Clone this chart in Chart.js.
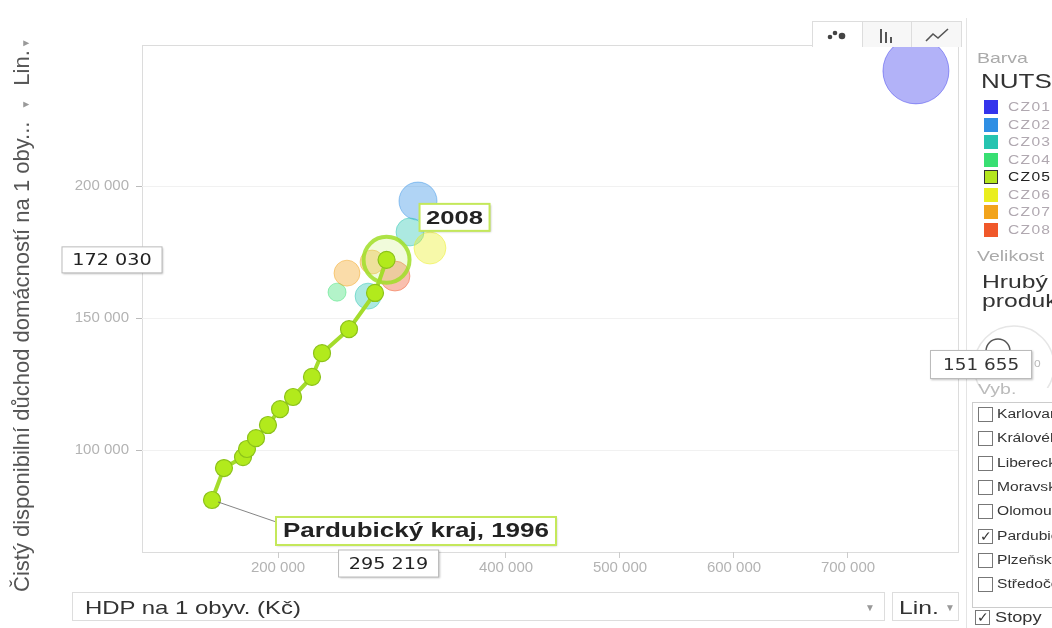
<!DOCTYPE html>
<html>
<head>
<meta charset="utf-8">
<script src="https://cdn.jsdelivr.net/npm/chart.js@4.4.0/dist/chart.umd.min.js"></script>
<style>
  body { margin: 0; width: 1052px; height: 628px; overflow: hidden; background: #fff; position: relative;
         font-family: "Liberation Sans", Arial, sans-serif; }
  #chart { position: absolute; left: 0; top: 0; }
  .abs { position: absolute; white-space: nowrap; }
  .sx { display: inline-block; transform: scaleX(1.3); transform-origin: left center; }
  .ytitle { left: 10px; top: 592px; transform: rotate(-90deg); transform-origin: left top;
            font-size: 22px; color: #555; line-height: 24px; }
  .arrow { font-size: 10px; color: #999; }
  .tabs { left: 812px; top: 21px; width: 148px; height: 25px; border: 1px solid #ddd; border-bottom: none; display: flex; }
  .tab { flex: 1; border-left: 1px solid #ddd; display: flex; align-items: center; justify-content: center; background: #f7f7f7; }
  .tab:first-child { border-left: none; background: #fff; }
  .select { border: 1px solid #ddd; height: 29px; line-height: 29px; font-size: 19px; color: #333; box-sizing: border-box; }
  .muted { color: #aaa; font-size: 15px; }
  .leg { left: 984px; width: 14px; height: 14px; }
  .legtxt { left: 1008px; font-size: 12px; color: #b0a8b0; letter-spacing: 1px; line-height: 14px; }
  .cb { left: 978px; width: 15px; height: 15px; border: 1px solid #777; box-sizing: border-box; font-size: 14px; line-height: 13px; text-align: center; color: #333; }
  .cbtxt { left: 997px; font-size: 12px; color: #333; line-height: 15px; }
  .valbox { border: 1px solid #bbb; background: #fff; box-shadow: 1px 1px 2px rgba(0,0,0,0.25); font-size: 16px; color: #333; text-align: center; font-family: "DejaVu Sans", sans-serif; }
</style>
</head>
<body>
<canvas id="chart" width="965" height="628"></canvas>

<div class="abs ytitle">Čistý disponibilní důchod domácností na 1 oby...<span class="arrow" style="margin-left:12px">▼</span><span style="margin-left:14px">Lin.</span><span class="arrow" style="margin-left:2px">▼</span></div>

<div class="abs tabs">
  <div class="tab"><svg width="22" height="12"><circle cx="4" cy="8" r="2.3" fill="#444"/><circle cx="9" cy="4" r="2.3" fill="#444"/><circle cx="16" cy="7" r="3.3" fill="#444"/></svg></div>
  <div class="tab"><svg width="20" height="16"><rect x="3" y="2" width="2" height="14" fill="#555"/><rect x="8" y="5" width="2" height="11" fill="#555"/><rect x="13" y="10" width="2" height="6" fill="#555"/></svg></div>
  <div class="tab"><svg width="26" height="16"><polyline points="2,14 9,7 14,11 24,2" fill="none" stroke="#555" stroke-width="1.6"/></svg></div>
</div>

<div class="abs select" style="left:72px; top:592px; width:813px; padding-left:12px;"><span class="sx" style="transform:scaleX(1.26)">HDP na 1 obyv. (Kč)</span><span class="arrow" style="position:absolute; left:792px; top:0">▼</span></div>
<div class="abs select" style="left:892px; top:592px; width:67px; padding-left:6px;"><span class="sx">Lin.</span><span class="arrow" style="position:absolute; left:52px; top:0">▼</span></div>

<div class="abs" style="left:966px; top:18px; width:1px; height:610px; background:#e4e4e4"></div>
<div class="abs muted" style="left:977px; top:49px;"><span class="sx">Barva</span></div>
<div class="abs" style="left:981px; top:70px; font-size:20px; color:#333;"><span class="sx">NUTS2</span></div>
<div id="legend"></div>
<div class="abs muted" style="left:977px; top:247px;"><span class="sx">Velikost</span></div>
<div class="abs" style="left:982px; top:272px; font-size:19px; color:#333; line-height:19px;"><span class="sx">Hrubý domácí</span><br><span class="sx">produkt</span></div>
<svg class="abs" style="left:968px; top:318px;" width="84" height="70">
  <circle cx="46" cy="48" r="40" fill="none" stroke="#e6e6e6" stroke-width="1.5"/>
  <circle cx="30" cy="33" r="12" fill="none" stroke="#555" stroke-width="1.5"/>
</svg>
<div class="abs valbox" style="left:930px; top:350px; width:100px; height:27px; line-height:27px;"><span class="sx" style="transform:scaleX(1.15); transform-origin:center">151 655</span></div>
<div class="abs" style="left:1034px; top:356px; font-size:12px; color:#bbb;">o</div>
<div class="abs" style="left:978px; top:380px; font-size:15px; color:#bbb;"><span class="sx">Vyb.</span></div>
<div class="abs" style="left:972px; top:402px; width:90px; height:204px; border:1px solid #ccc;"></div>
<div id="picker"></div>
<div class="abs cb" style="left:975px; top:610px;">✓</div>
<div class="abs cbtxt" style="left:995px; top:610px; font-size:14px;"><span class="sx">Stopy</span></div>

<script>
// Pardubický kraj (CZ05), 1996-2008: HDP na 1 obyv. vs. čistý disponibilní důchod na 1 obyv.
const years = [1996, 1997, 1998, 1999, 2000, 2001, 2002, 2003, 2004, 2005, 2006, 2007, 2008];
const pardHdp = [142100, 152600, 169300, 172800, 180700, 191200, 201800, 213200, 229800, 238600, 262300, 285100, 295219];
const pardIncome = [81100, 93200, 97350, 100400, 104500, 109500, 115500, 120100, 127700, 136700, 145800, 159500, 172030];

// other regions in 2008 (faded bubbles)
const otherNames = ["Hl. m. Praha", "Středočeský kraj", "Plzeňský kraj", "Jihočeský kraj", "Karlovarský kraj",
                    "Jihomoravský kraj", "Olomoucký kraj", "Zlínský kraj", "Moravskoslezský kraj"];
const otherNuts = ["CZ01", "CZ02", "CZ03", "CZ03", "CZ04", "CZ06", "CZ07", "CZ07", "CZ08"];
const otherHdp = [759600, 322800, 315800, 279000, 251800, 333300, 282500, 260500, 302600];
const otherIncome = [243600, 194300, 182600, 158300, 159800, 176500, 171200, 167000, 165900];
const otherGdpTotal = [950, 315, 171, 147, 71, 223, 126, 147, 196]; // mld. Kč (bubble size)

const nutsCodes = ["CZ01", "CZ02", "CZ03", "CZ04", "CZ05", "CZ06", "CZ07", "CZ08"];
const nutsColors = ["#3434ec", "#2f8fe4", "#26c4b0", "#38df72", "#b4e61e", "#eaee1e", "#f2a41c", "#f0582a"];

const pickerItems = ["Karlovarský kraj", "Královéhradecký kraj", "Liberecký kraj", "Moravskoslezský kraj",
                     "Olomoucký kraj", "Pardubický kraj", "Plzeňský kraj", "Středočeský kraj"];

const xTicks = [200000, 300000, 400000, 500000, 600000, 700000];
const yTicks = [100000, 150000, 200000];

const fmt = v => String(Math.round(v)).replace(/\B(?=(\d{3})+(?!\d))/g, " ");

function fade(hex, a) {
  const n = parseInt(hex.slice(1), 16);
  return `rgba(${n >> 16}, ${(n >> 8) & 255}, ${n & 255}, ${a})`;
}

// side panel
let html = "";
nutsCodes.forEach((c, i) => {
  const top = 100 + i * 17.5;
  const sel = c === "CZ05";
  html += `<div class="abs leg" style="top:${top}px; background:${nutsColors[i]};${sel ? " border:1.5px solid #333; box-sizing:border-box;" : ""}"></div>`;
  html += `<div class="abs legtxt" style="top:${top}px;${sel ? " color:#222;" : ""}"><span class="sx">${c}</span></div>`;
});
document.getElementById("legend").innerHTML = html;

html = "";
pickerItems.forEach((name, i) => {
  const top = 407 + i * 24.3;
  const on = name === "Pardubický kraj";
  html += `<div class="abs cb" style="top:${top}px;">${on ? "✓" : ""}</div>`;
  html += `<div class="abs cbtxt" style="top:${top}px;"><span class="sx">${name}</span></div>`;
});
document.getElementById("picker").innerHTML = html;

const lime = "#b2ea1c";

const overlay = {
  id: "overlay",
  beforeDraw(chart) {
    const { ctx, chartArea: a } = chart;
    ctx.save();
    ctx.strokeStyle = "#dcdcdc";
    ctx.lineWidth = 1;
    ctx.strokeRect(a.left + 0.5, a.top + 0.5, a.right - a.left, a.bottom - a.top);
    ctx.restore();
  },
  afterDatasetsDraw(chart) {
    const { ctx, chartArea: a, scales: { x, y } } = chart;
    const last = pardHdp.length - 1;
    const px = x.getPixelForValue(pardHdp[last]);
    const py = y.getPixelForValue(pardIncome[last]);
    const p0x = x.getPixelForValue(pardHdp[0]);
    const p0y = y.getPixelForValue(pardIncome[0]);

    function box(text, left, top, w, h, font, border, bw, sx) {
      ctx.save();
      ctx.shadowColor = "rgba(0,0,0,0.25)";
      ctx.shadowBlur = 2;
      ctx.shadowOffsetX = 1;
      ctx.shadowOffsetY = 1;
      ctx.fillStyle = "#fff";
      ctx.fillRect(left, top, w, h);
      ctx.restore();
      ctx.save();
      ctx.strokeStyle = border;
      ctx.lineWidth = bw;
      ctx.strokeRect(left, top, w, h);
      ctx.fillStyle = "#222";
      ctx.font = font;
      ctx.textAlign = "center";
      ctx.textBaseline = "middle";
      ctx.translate(left + w / 2, top + h / 2 + 1);
      ctx.scale(sx, 1);
      ctx.fillText(text, 0, 0);
      ctx.restore();
    }

    // connector to the first year label
    ctx.save();
    ctx.strokeStyle = "#666";
    ctx.lineWidth = 0.8;
    ctx.beginPath();
    ctx.moveTo(p0x + 6, p0y + 2);
    ctx.lineTo(p0x + 70, p0y + 24);
    ctx.stroke();
    ctx.restore();

    box(String(years[last]), px + 33, py - 56, 70, 27, "bold 19px 'Liberation Sans', Arial", "#c4e85a", 2, 1.35);
    box("Pardubický kraj, " + years[0], p0x + 64, p0y + 17, 280, 28, "bold 20px 'Liberation Sans', Arial", "#c4e85a", 2, 1.3);

    // axis value boxes
    box(fmt(pardIncome[last]), a.left - 80, py - 13, 100, 26, "16px 'DejaVu Sans', sans-serif", "#bbb", 1, 1.2);
    box(fmt(pardHdp[last]), px - 48, a.bottom - 2, 100, 27, "16px 'DejaVu Sans', sans-serif", "#bbb", 1, 1.2);
  }
};

const last = pardHdp.length - 1;

new Chart(document.getElementById("chart"), {
  type: "bubble",
  data: {
    datasets: [
      {
        type: "scatter",
        label: "Pardubický kraj",
        data: pardHdp.map((v, i) => ({ x: v, y: pardIncome[i] })),
        showLine: true,
        borderColor: "#a4dc2c",
        borderWidth: 4,
        pointRadius: 8.5,
        pointBackgroundColor: lime,
        pointBorderColor: "#8cc21a",
        pointBorderWidth: 1.2
      },
      {
        label: "Pardubický kraj 2008",
        data: [{ x: pardHdp[last], y: pardIncome[last], r: 23 }],
        backgroundColor: "rgba(200, 240, 110, 0.25)",
        borderColor: "rgba(160, 222, 40, 0.85)",
        borderWidth: 4
      },
      {
        label: "Ostatní kraje",
        data: otherHdp.map((v, i) => ({ x: v, y: otherIncome[i], r: 33 * Math.sqrt(otherGdpTotal[i] / 950) })),
        backgroundColor: otherNuts.map(c => fade(nutsColors[nutsCodes.indexOf(c)], 0.38)),
        borderColor: otherNuts.map(c => fade(nutsColors[nutsCodes.indexOf(c)], 0.45)),
        borderWidth: 1
      }
    ]
  },
  options: {
    responsive: false,
    animation: false,
    layout: { autoPadding: false, padding: { top: 45, right: 7, bottom: 48, left: 0 } },
    plugins: { legend: { display: false }, tooltip: { enabled: false } },
    scales: {
      x: {
        type: "linear",
        min: 80700,
        max: 796500,
        afterBuildTicks: s => { s.ticks = xTicks.map(v => ({ value: v })); },
        afterFit: s => { s.height = 28; },
        grid: { drawOnChartArea: false, tickLength: 6, tickColor: "#ccc" },
        border: { display: false },
        ticks: { color: "#b3b3b3", font: { family: "Liberation Sans", size: 15 }, padding: 1, callback: v => fmt(v) }
      },
      y: {
        type: "linear",
        min: 61400,
        max: 253400,
        afterBuildTicks: s => { s.ticks = yTicks.map(v => ({ value: v })); },
        afterFit: s => { s.width = 142; },
        grid: { color: "#f1f1f1", tickLength: 6, tickColor: "#bbb" },
        border: { display: false },
        ticks: { color: "#b3b3b3", font: { family: "Liberation Sans", size: 15 }, padding: 7, callback: v => fmt(v) }
      }
    }
  },
  plugins: [overlay]
});
</script>
</body>
</html>
